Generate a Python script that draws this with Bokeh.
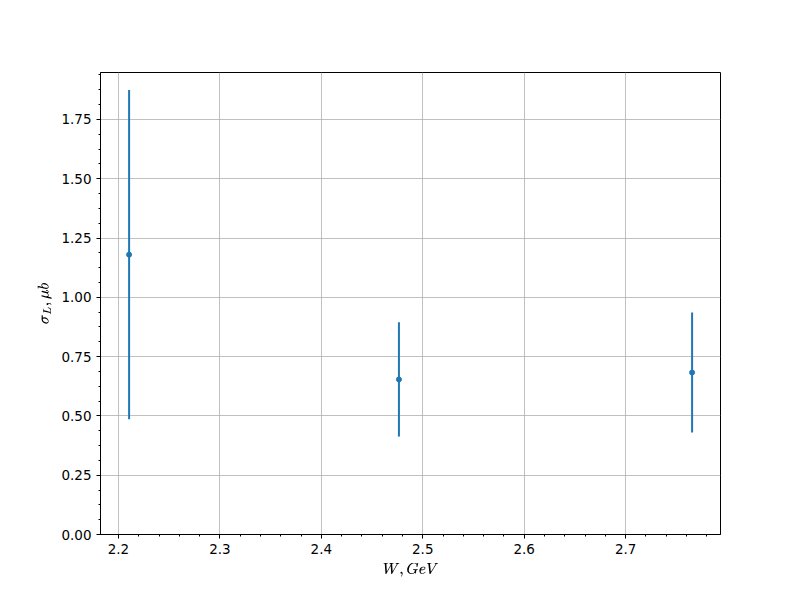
from bokeh.plotting import figure
from bokeh.models import Range1d, SingleIntervalTicker, NumeralTickFormatter
from bokeh.embed import file_html
from bokeh.resources import INLINE

# data
W = [2.2105, 2.4765, 2.7655]
sigma_L = [1.18, 0.654, 0.683]
err = [0.694, 0.241, 0.253]

lower = [s - e for s, e in zip(sigma_L, err)]
upper = [s + e for s, e in zip(sigma_L, err)]

p = figure(width=784, height=584, frame_width=620, frame_height=462,
           min_border_left=100, min_border_right=64, min_border_top=72, min_border_bottom=50,
           output_backend="svg", toolbar_location=None,
           x_range=Range1d(2.1823, 2.7935), y_range=Range1d(0, 1.948))

p.xaxis.ticker = SingleIntervalTicker(interval=0.1, num_minor_ticks=5)
p.yaxis.ticker = SingleIntervalTicker(interval=0.25, num_minor_ticks=4)
p.xaxis.formatter = NumeralTickFormatter(format="0.0")
p.yaxis.formatter = NumeralTickFormatter(format="0.00")

for ax in (p.xaxis, p.yaxis):
    ax.major_tick_in = 0
    ax.major_tick_out = 4
    ax.minor_tick_in = 0
    ax.minor_tick_out = 2
    ax.major_label_text_font = "DejaVu Sans"
    ax.major_label_text_font_size = "13.5px"
    ax.major_label_text_color = "black"
    ax.major_label_standoff = 5
    ax.axis_line_color = "black"
    ax.major_tick_line_color = "black"
    ax.minor_tick_line_color = "black"
    ax.axis_label_text_font = "DejaVu Sans"
    ax.axis_label_text_font_size = "13px"
    ax.axis_label_text_font_style = "normal"
    ax.axis_label_text_color = "black"
    ax.axis_label_standoff = 6

p.xaxis.axis_label = r"$$W, GeV$$"
p.yaxis.axis_label = r"$$\sigma_L, \mu b$$"

p.xgrid.ticker = p.xaxis.ticker
p.ygrid.ticker = p.yaxis.ticker
p.grid.grid_line_color = "#b0b0b0"
p.grid.grid_line_width = 0.8

p.outline_line_color = "black"
p.outline_line_width = 1
p.outline_line_alpha = 1

p.segment(x0=W, y0=lower, x1=W, y1=upper, line_color="#1f77b4", line_width=2)
p.scatter(x=W, y=sigma_L, size=5, color="#1f77b4")

open("out.html", "w").write(file_html(p, INLINE))
